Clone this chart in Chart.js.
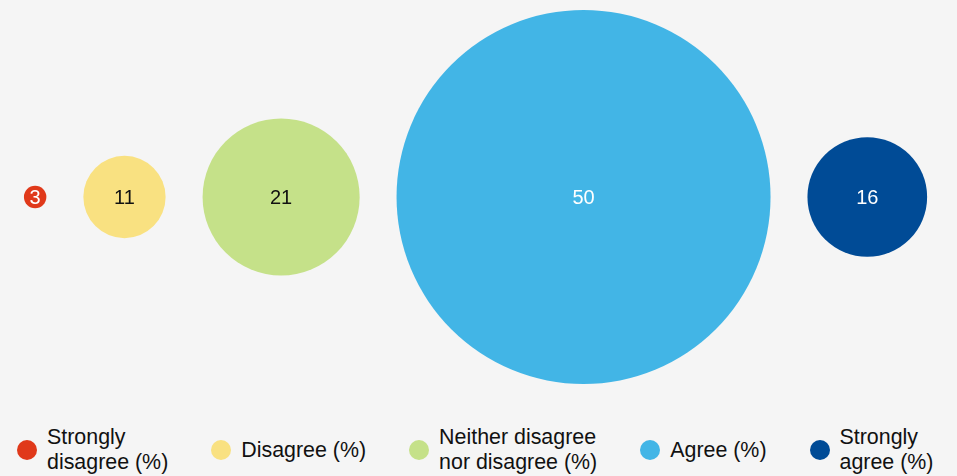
<!DOCTYPE html>
<html>
<head>
<meta charset="utf-8">
<script src="https://cdn.jsdelivr.net/npm/chart.js@4"></script>
<style>
  body { margin: 0; background: #f5f5f5; }
  #wrap { position: relative; width: 957px; height: 476px; background: #f5f5f5; overflow: hidden; }
  #chart { position: absolute; left: 0; top: 0; }
  #legend { position: absolute; left: 17px; top: 425px; display: flex; align-items: center; gap: 43px;
    font-family: "Liberation Sans", Arial, sans-serif; font-size: 21.4px; line-height: 25px; color: #111; }
  .item { display: flex; align-items: center; }
  .dot { width: 20px; height: 20px; border-radius: 50%; margin-right: 10px; flex: none; }
</style>
</head>
<body>
<div id="wrap">
  <canvas id="chart" width="957" height="394"></canvas>
  <div id="legend"></div>
</div>
<script>
// data
const categories = [
  ["Strongly", "disagree (%)"],
  ["Disagree (%)"],
  ["Neither disagree", "nor disagree (%)"],
  ["Agree (%)"],
  ["Strongly", "agree (%)"]
];
const values = [3, 11, 21, 50, 16];
const colors = ["#e0391a", "#f9e181", "#c5e189", "#42b5e6", "#004b96"];
const textColors = ["#ffffff", "#111111", "#111111", "#ffffff", "#ffffff"];

// bubbles sit side by side, gap in value units
const gap = 9.9;
let xs = [];
values.forEach((v, i) => {
  if (i == 0) {
    xs.push(9.4);
  } else {
    xs.push(xs[i - 1] + values[i - 1] + gap + v);
  }
});

const labelPlugin = {
  id: "bubbleLabels",
  afterDatasetsDraw: (chart) => {
    const ctx = chart.ctx;
    ctx.save();
    ctx.font = '20px "Liberation Sans", Arial, sans-serif';
    ctx.textAlign = "center";
    ctx.textBaseline = "middle";
    chart.data.datasets.forEach((ds, i) => {
      const meta = chart.getDatasetMeta(i);
      meta.data.forEach((el) => {
        ctx.fillStyle = textColors[i];
        ctx.fillText(values[i], el.x, el.y + 1);
      });
    });
    ctx.restore();
  },
};

const datasets = categories.map((c, i) => {
  return {
    label: c.join(" "),
    data: [{ x: xs[i], y: 0, v: values[i] }],
    backgroundColor: colors[i],
    borderWidth: 0,
    clip: false,
    radius: (ctx) => {
      const area = ctx.chart.chartArea;
      const h = area ? area.bottom - area.top : 374;
      return ctx.raw.v * h / 100;
    },
  };
});

new Chart(document.getElementById("chart"), {
  type: "bubble",
  data: { datasets: datasets },
  options: {
    responsive: false,
    animation: false,
    events: [],
    layout: { autoPadding: false, padding: { top: 10, bottom: 10, left: 0, right: 0 } },
    scales: {
      x: { type: "linear", min: 0, max: 256, display: false },
      y: { type: "linear", min: -50, max: 50, display: false },
    },
    plugins: {
      legend: { display: false },
      tooltip: { enabled: false },
    },
  },
  plugins: [labelPlugin],
});

// legend
const legend = document.getElementById("legend");
categories.forEach((c, i) => {
  const item = document.createElement("div");
  item.className = "item";
  const dot = document.createElement("span");
  dot.className = "dot";
  dot.style.background = colors[i];
  const txt = document.createElement("span");
  txt.innerHTML = c.join("<br>");
  item.appendChild(dot);
  item.appendChild(txt);
  legend.appendChild(item);
});
</script>
</body>
</html>
